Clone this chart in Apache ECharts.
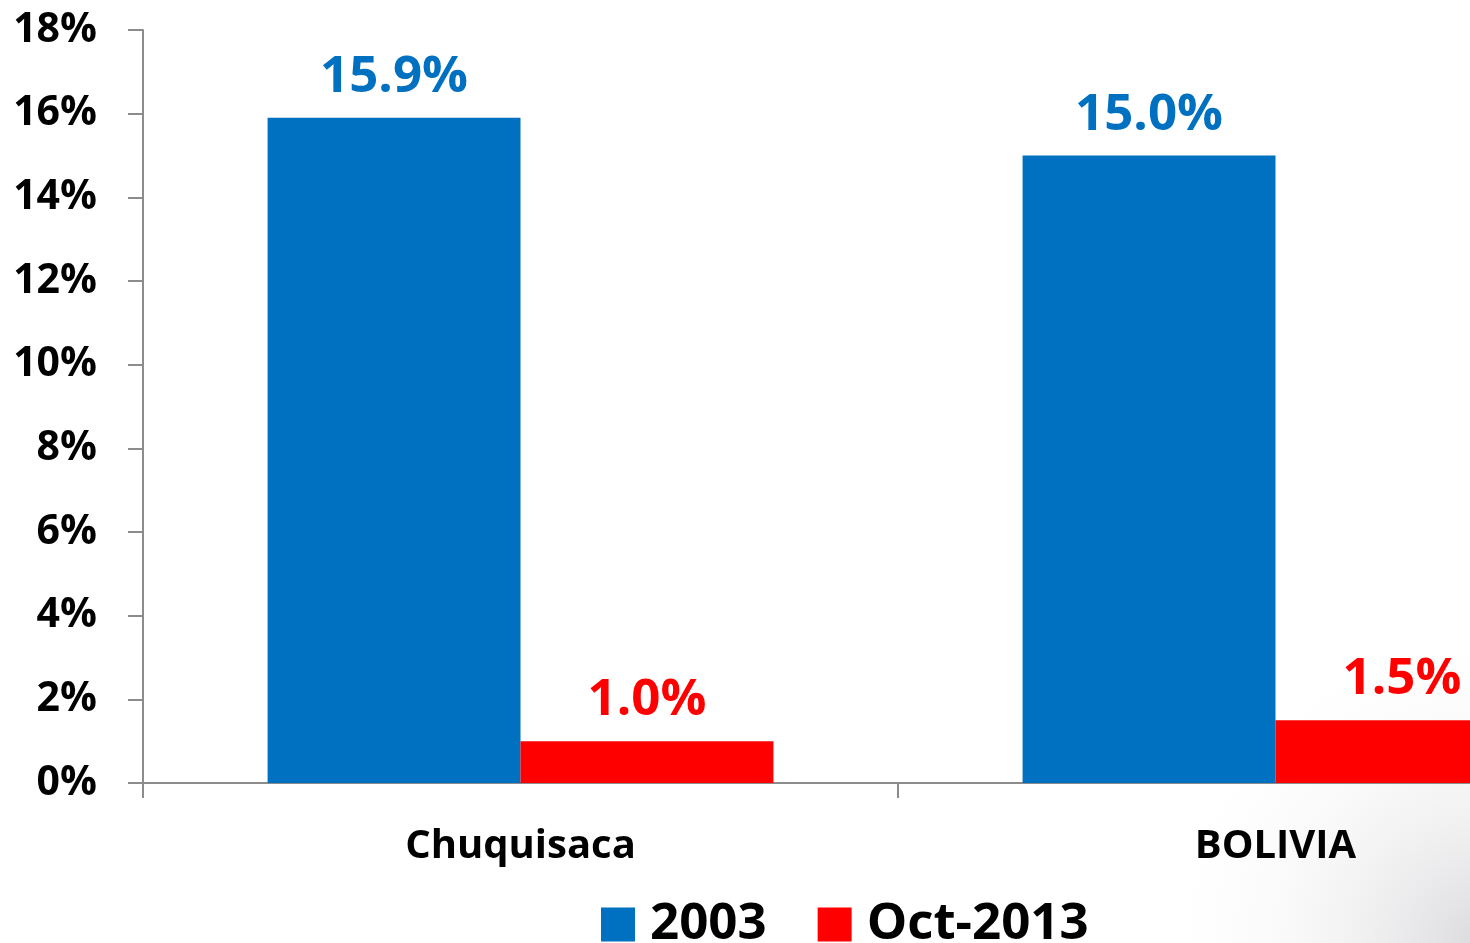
<!DOCTYPE html>
<html>
<head>
<meta charset="utf-8">
<script src="https://cdn.jsdelivr.net/npm/echarts@6/dist/echarts.min.js"></script>
<style>
  html, body { margin: 0; padding: 0; background: #fff; overflow: hidden; }
  /* the plot runs past the right edge of the slide, so the canvas is wider than the window */
  #main { width: 1653px; height: 943px; }
</style>
</head>
<body>
<div id="main"></div>
<script>
// data
const categories = ['Chuquisaca', 'BOLIVIA'];
const seriesNames = ['2003', 'Oct-2013'];
const values2003 = [15.9, 15.0];
const valuesOct2013 = [1.0, 1.5];
const yTicks = [0, 2, 4, 6, 8, 10, 12, 14, 16, 18];

const font = '"Open Sans", "Noto Sans", sans-serif';
const axisGray = '#8c8c8c';

const chart = echarts.init(document.getElementById('main'));

function labelStyle(color) {
  return {
    show: true,
    position: 'top',
    distance: 15,
    color: color,
    fontFamily: font,
    fontWeight: 'bold',
    fontSize: 51,
    formatter: p => p.value.toFixed(1) + '%'
  };
}

const option = {
  backgroundColor: '#ffffff',
  animation: false,
  graphic: [{
    // faint grey shading in the lower right corner of the slide
    type: 'rect',
    z: -10,
    shape: { x: 1150, y: 520, width: 330, height: 423 },
    style: {
      fill: {
        type: 'radial', x: 1, y: 1, r: 1,
        colorStops: [
          { offset: 0, color: 'rgba(190,190,195,0.55)' },
          { offset: 1, color: 'rgba(255,255,255,0)' }
        ]
      }
    }
  }],
  grid: {
    left: 143,
    top: 30,
    bottom: 160,
    right: 0,
    containLabel: false
  },
  legend: {
    left: 596,
    top: 894,
    icon: 'rect',
    itemWidth: 34,
    itemHeight: 34,
    itemGap: 51,
    textStyle: {
      fontFamily: font,
      fontWeight: 'bold',
      fontSize: 51,
      color: '#000',
      padding: [0, 0, 0, 10]
    },
    data: seriesNames
  },
  xAxis: {
    type: 'category',
    data: categories,
    axisLine: { lineStyle: { color: axisGray, width: 2 } },
    axisTick: { show: true, length: 15, lineStyle: { color: axisGray, width: 2 } },
    axisLabel: {
      margin: 44,
      color: '#000',
      fontFamily: font,
      fontWeight: 'bold',
      fontSize: 40
    }
  },
  yAxis: {
    type: 'value',
    min: 0,
    max: 18,
    interval: 2,
    axisLine: { show: true, lineStyle: { color: axisGray, width: 2 } },
    axisTick: { show: true, length: 15, lineStyle: { color: axisGray, width: 2 } },
    splitLine: { show: false },
    axisLabel: {
      margin: 46,
      color: '#000',
      fontFamily: font,
      fontWeight: 'bold',
      fontSize: 41,
      formatter: v => yTicks.includes(v) ? v + '%' : ''
    }
  },
  series: [{
    name: seriesNames[0],
    type: 'bar',
    data: values2003,
    barGap: '0%',
    barCategoryGap: '33%',
    itemStyle: { color: '#0070C0' },
    label: labelStyle('#0070C0')
  }, {
    name: seriesNames[1],
    type: 'bar',
    data: valuesOct2013,
    barGap: '0%',
    barCategoryGap: '33%',
    itemStyle: { color: '#FF0000' },
    label: labelStyle('#FF0000')
  }]
};

chart.setOption(option);
</script>
</body>
</html>
